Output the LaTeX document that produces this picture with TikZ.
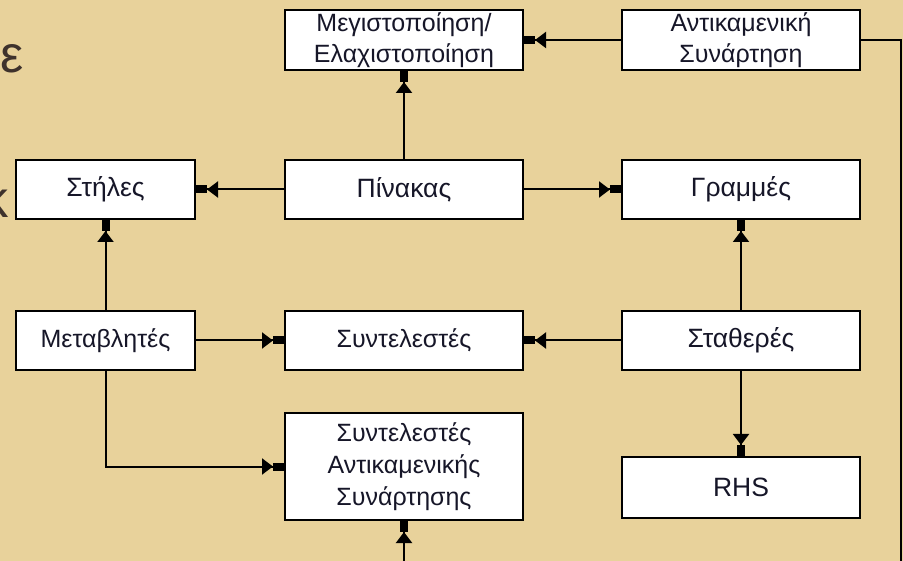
\documentclass[tikz,border=0pt]{standalone}
\usepackage{fontspec}
\setmainfont{Liberation Sans}
\usetikzlibrary{arrows.meta,positioning}
\definecolor{parchment}{RGB}{232,210,155}
\definecolor{slideink}{RGB}{62,50,44}
\definecolor{boxink}{RGB}{22,22,40}

\tikzset{
  box/.style={draw, line width=2pt, fill=white, minimum height=59pt, inner sep=2pt,
    align=center, text=boxink, font=\fontsize{25}{31}\selectfont},
  big/.style={font=\fontsize{26.5}{31}\selectfont},
  wide/.style={minimum width=238pt},
  narrow/.style={minimum width=179pt},
  link/.style={line width=2pt, -{Triangle[length=11pt,width=16pt]Rectangle[length=11pt,width=8pt]}},
  cut/.style={inner sep=0pt, text=slideink, font=\fontsize{52}{52}\selectfont}
}

\begin{document}
\begin{tikzpicture}[x=1pt,y=-1pt]
\useasboundingbox (0,0) rectangle (903,561);
\fill[parchment] (0,0) rectangle (903,561);

% slide text cut at the left edge
\node[cut, anchor=base east] (eps) at (24,73) {ε};
\node[cut, anchor=base east] (kap) at (9,218) {κ};

% boxes
\node[box, big, wide] (matrix) at (404,189.5) {Πίνακας};
\node[box, big, narrow, left=88pt of matrix] (cols) {Στήλες};
\node[box, big, wide, right=97pt of matrix] (rows) {Γραμμές};
\node[box, wide, above=88pt of matrix, minimum height=60pt] (maxmin) {Μεγιστοποίηση/\\Ελαχιστοποίηση};
\node[box, wide, right=97pt of maxmin, minimum height=60pt] (objfun) {Αντικαμενική\\Συνάρτηση};
\node[box, wide, below=90pt of matrix] (coefs) {Συντελεστές};
\node[box, narrow, left=88pt of coefs] (vars) {Μεταβλητές};
\node[box, big, wide, right=97pt of coefs] (consts) {Σταθερές};
\node[box, wide, below=41pt of coefs, minimum height=107pt,
  font=\fontsize{25}{32}\selectfont] (objcoefs) {Συντελεστές\\Αντικαμενικής\\Συνάρτησης};
\node[box, big, wide, below=85pt of consts, minimum height=61pt] (rhs) {RHS};

\coordinate (turn) at (900.5,600);

% connectors
\draw[link] (matrix) -- (maxmin);
\draw[link] (objfun) -- (maxmin);
\draw[link] (matrix) -- (cols);
\draw[link] (matrix) -- (rows);
\draw[link] (vars) -- (cols);
\draw[link] (vars) -- (coefs);
\draw[link] (consts) -- (coefs);
\draw[link] (consts) -- (rows);
\draw[link] (consts) -- (rhs);
\draw[link] (vars.south) |- (objcoefs.west);
\draw[link] (objfun.east) -| (turn) -| (objcoefs.south);
\end{tikzpicture}
\end{document}
